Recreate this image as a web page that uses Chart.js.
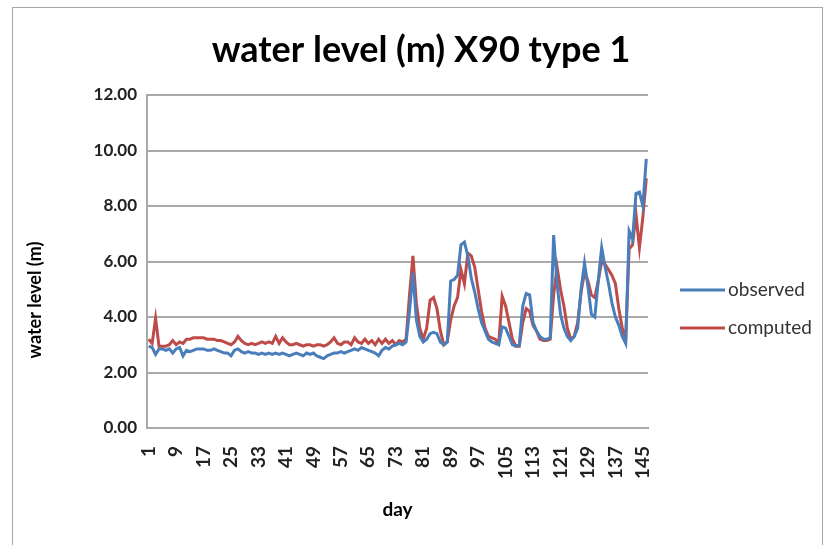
<!DOCTYPE html>
<html>
<head>
<meta charset="utf-8">
<title>water level (m) X90 type 1</title>
<script src="https://cdn.jsdelivr.net/npm/chart.js@4.4.1/dist/chart.umd.min.js"></script>
<style>
    html, body { margin: 0; padding: 0; background: #fff; }
    body { width: 826px; height: 545px; overflow: hidden; position: relative; }
    #frame { position: absolute; left: 12px; top: 7px; width: 811px; height: 560px; border: 1px solid #a6a6a6; box-sizing: border-box; }
    #wrap { position: absolute; left: 0; top: 0; width: 826px; height: 545px; }
</style>
</head>
<body>
<div id="frame"></div>
<div id="wrap"><canvas id="level-chart" width="826" height="545"></canvas></div>
<script>
// ===== DATA =====
const chartTitle = 'water level (m) X90 type 1';
const yTitle = 'water level (m)';

const days = [
    1, 2, 3, 4, 5, 6, 7, 8, 9, 10, 11, 12, 13, 14, 15, 16, 17, 18, 19, 20,
    21, 22, 23, 24, 25, 26, 27, 28, 29, 30, 31, 32, 33, 34, 35, 36, 37, 38, 39, 40,
    41, 42, 43, 44, 45, 46, 47, 48, 49, 50, 51, 52, 53, 54, 55, 56, 57, 58, 59, 60,
    61, 62, 63, 64, 65, 66, 67, 68, 69, 70, 71, 72, 73, 74, 75, 76, 77, 78, 79, 80,
    81, 82, 83, 84, 85, 86, 87, 88, 89, 90, 91, 92, 93, 94, 95, 96, 97, 98, 99, 100,
    101, 102, 103, 104, 105, 106, 107, 108, 109, 110, 111, 112, 113, 114, 115, 116, 117, 118, 119, 120,
    121, 122, 123, 124, 125, 126, 127, 128, 129, 130, 131, 132, 133, 134, 135, 136, 137, 138, 139, 140,
    141, 142, 143, 144, 145, 146
];

// day labels printed under the axis
const tickDays = [1, 9, 17, 25, 33, 41, 49, 57, 65, 73, 81, 89, 97, 105, 113, 121, 129, 137, 145];

const observed = [
    2.95, 2.9, 2.65, 2.85, 2.85, 2.8, 2.85, 2.7, 2.85, 2.9,
    2.6, 2.8, 2.75, 2.8, 2.85, 2.85, 2.85, 2.8, 2.8, 2.85,
    2.8, 2.75, 2.7, 2.7, 2.6, 2.8, 2.85, 2.75, 2.7, 2.75,
    2.7, 2.7, 2.65, 2.7, 2.65, 2.7, 2.65, 2.7, 2.65, 2.7,
    2.65, 2.6, 2.65, 2.7, 2.65, 2.6, 2.7, 2.65, 2.7, 2.6,
    2.55, 2.5, 2.6, 2.65, 2.7, 2.7, 2.75, 2.7, 2.75, 2.8,
    2.85, 2.8, 2.9, 2.85, 2.8, 2.75, 2.7, 2.6, 2.8, 2.9,
    2.85, 2.95, 3.0, 3.05, 3.0, 3.1, 4.2, 5.6, 3.9, 3.3,
    3.1, 3.2, 3.4, 3.45, 3.4, 3.1, 3.0, 3.1, 5.3, 5.35,
    5.5, 6.6, 6.7, 6.2, 5.4, 4.9, 4.3, 3.8, 3.5, 3.2,
    3.1, 3.05, 3.0, 3.65, 3.6, 3.3, 3.0, 2.95, 3.0, 4.4,
    4.85, 4.8, 3.8, 3.5, 3.3, 3.2, 3.2, 3.25, 6.95, 5.2,
    4.1, 3.6, 3.3, 3.15, 3.3, 3.6, 5.0, 5.95, 5.1, 4.1,
    4.0, 5.3, 6.5, 5.8, 5.2, 4.5, 4.0, 3.7, 3.3, 3.05,
    7.1, 6.8, 8.45, 8.5, 8.0, 9.7
];

const computed = [
    3.2, 3.05, 3.95, 2.95, 2.95, 2.95, 3.0, 3.15, 3.0, 3.1,
    3.05, 3.2, 3.2, 3.25, 3.25, 3.25, 3.25, 3.2, 3.2, 3.2,
    3.15, 3.15, 3.1, 3.05, 3.0, 3.1, 3.3, 3.15, 3.05, 3.0,
    3.05, 3.0, 3.05, 3.1, 3.05, 3.1, 3.05, 3.3, 3.05, 3.25,
    3.1, 3.0, 3.0, 3.05, 3.0, 2.95, 3.0, 3.0, 2.95, 3.0,
    3.0, 2.95, 3.0, 3.1, 3.25, 3.05, 3.0, 3.1, 3.1, 3.0,
    3.25, 3.1, 3.05, 3.2, 3.05, 3.15, 3.0, 3.2, 3.05, 3.2,
    3.05, 3.15, 3.0, 3.15, 3.1, 3.2, 4.8, 6.2, 4.5, 3.6,
    3.2, 3.6, 4.6, 4.7, 4.3, 3.5, 3.0, 3.1, 3.9, 4.4,
    4.7, 5.7, 5.2, 6.3, 6.2, 5.8, 5.0, 4.2, 3.6, 3.3,
    3.25, 3.2, 3.05, 4.75, 4.4, 3.8, 3.2, 2.95, 2.95, 3.8,
    4.3, 4.2, 3.7, 3.5, 3.2, 3.15, 3.15, 3.2, 4.8, 5.8,
    5.0, 4.4, 3.6, 3.2, 3.3, 3.8, 4.9, 5.6, 5.3, 4.8,
    4.7, 5.3, 6.0, 5.9, 5.7, 5.5, 5.2, 4.3, 3.6, 3.2,
    6.45, 6.6, 7.7, 6.5, 7.6, 9.0
];

// ===== TITLES + LEGEND =====
// main title centred on the canvas, y title beside the axis,
// legend as short lines right of the plot
const frameText = {
    id: 'frameText',
    afterDraw(chart) {
        const ctx = chart.ctx;
        const area = chart.chartArea;
        ctx.save();

        ctx.fillStyle = '#000';
        ctx.font = 'bold 36px Lato';
        ctx.textAlign = 'center';
        ctx.textBaseline = 'middle';
        ctx.fillText(chartTitle, chart.width / 2 + 8, 50);

        ctx.save();
        ctx.translate(35, area.bottom - 128);
        ctx.rotate(-Math.PI / 2);
        ctx.font = 'bold 18px Lato';
        ctx.fillText(yTitle, 0, 0);
        ctx.restore();

        ctx.textAlign = 'left';
        chart.data.datasets.forEach((ds, i) => {
            const y = area.top + 195 + i * 38;
            const x0 = area.right + 32;
            ctx.strokeStyle = ds.borderColor;
            ctx.lineWidth = 3;
            ctx.beginPath();
            ctx.moveTo(x0, y);
            ctx.lineTo(x0 + 45, y);
            ctx.stroke();
            ctx.fillStyle = '#333';
            ctx.font = '19px Lato';
            ctx.fillText(ds.label, x0 + 48, y);
        });
        ctx.restore();
    }
};

const gridColor = '#a9a9a9';

new Chart(document.getElementById('level-chart'), {
    type: 'line',
    data: {
        labels: days,
        datasets: [{
            label: 'observed',
            data: observed,
            borderColor: '#4a7ebb',
            borderWidth: 3,
            pointRadius: 0,
            tension: 0
        }, {
            label: 'computed',
            data: computed,
            borderColor: '#be4b48',
            borderWidth: 3,
            pointRadius: 0,
            tension: 0
        }]
    },
    options: {
        responsive: false,
        animation: false,
        layout: {
            padding: { top: 95, right: 178, bottom: 0, left: 0 }
        },
        plugins: {
            legend: { display: false },
            tooltip: { enabled: false },
            title: { display: false }
        },
        scales: {
            x: {
                offset: true,
                grid: { display: false, drawTicks: false },
                border: { display: true, color: gridColor, width: 2 },
                ticks: {
                    autoSkip: false,
                    minRotation: 90,
                    maxRotation: 90,
                    padding: 18,
                    color: '#222',
                    font: { family: 'Lato', size: 19, weight: 'bold' },
                    callback: function (value) {
                        const d = this.getLabelForValue(value);
                        return tickDays.includes(d) ? String(d) : '';
                    }
                },
                title: {
                    display: true,
                    text: 'day',
                    color: '#000',
                    font: { family: 'Lato', size: 19, weight: 'bold' },
                    padding: { top: 0, bottom: 24 }
                },
                afterFit(scale) { scale.height = 117; }
            },
            y: {
                min: 0,
                max: 12,
                grid: { color: gridColor, lineWidth: 2, drawTicks: false },
                border: { display: true, color: gridColor, width: 2 },
                ticks: {
                    stepSize: 2,
                    padding: 10,
                    color: '#222',
                    font: { family: 'Lato', size: 17, weight: 'bold' },
                    callback: v => v.toFixed(2)
                },
                afterFit(scale) { scale.width = 147; }
            }
        }
    },
    plugins: [frameText]
});
</script>
</body>
</html>
